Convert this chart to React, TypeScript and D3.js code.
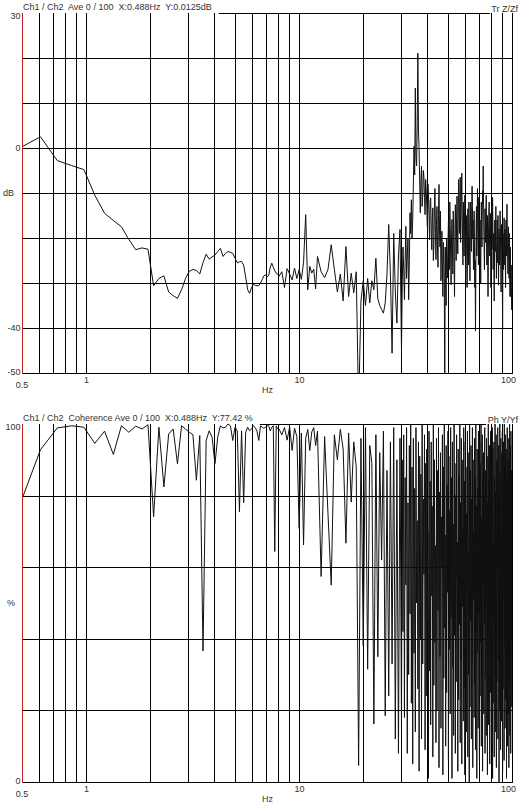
import React, { useEffect, useRef } from 'react';
import * as d3 from 'd3';

// FFT bin width (Hz)
const DF = 0.1220703125;

// ---------- Transfer function (dB) ----------
// bins 4..65, step 1
const topDbA = [0.0125, 2.5, -2.8, -3.9, -4.8, -10.5, -14.5, -16.1, -17.5, -20.3, -22.6, -22.2, -22.5, -30.6, -29.0, -28.4, -32.0, -32.8, -33.4, -31.5, -29.0, -27.4, -27.0, -27.2, -28.0, -25.5, -23.6, -24.7, -24.2, -23.8, -23.0, -22.3, -24.1, -23.4, -23.0, -23.2, -23.4, -24.5, -25.5, -25.3, -25.2, -26.0, -28.7, -31.5, -32.3, -31.0, -30.3, -30.5, -30.6, -30.6, -30.0, -29.2, -28.4, -28.2, -28.6, -28.3, -26.5, -25.6, -26.5, -27.3, -27.8, -28.0];
// bins 66..100, step 2
const topDbB = [-28.5, -27.5, -31.0, -26.8, -28.0, -29.3, -26.7, -29.0, -27.0, -29.2, -25.5, -14.8, -31.5, -26.3, -27.8, -26.9, -31.3, -24.1];
// bins 104..248, step 4
const topDbC = [
  -27.5, -28.8, -27.0, -21.5, -27.0, -32.0, -28.0, -34.0, -21.9, -33.0, -27.8, -32.2, -27.5, -58, -34.0, -29.5, -35.0, -29.0, -34.4, -29.5,
  -31.5, -24.5, -33.5, -35.0, -35.9, -36.7, -34.4, -28.0, -17.0, -28.0, -45.6, -19.0, -32.0, -38.9, -24.0, -18.1, -45.2
];
// bins 250..816, step 2
const topDbD = [
  -30, -22.0, -27, -33.7, -25, -17.4, -29, -24, -20, -33.7, -25, -14.4, -19, -11.5, -20, -15.9, -8, 0.4, -6, 13.3,
  -2, -4.0, 6, 21.1, 4, -0.4, -8, -14.4, -7, -4.1, -13, -10.7, -5, -6.3, -11, -14.8, -7, -9.3, -13, -17.4,
  -8, -10.4, -15, -20.4, -12, -11.1, -18, -22.6, -16, -13.3, -25, -21.5, -14, -9.0, -19, -24.8, -17, -13.0, -22, -26.5,
  -15, -8.1, -18, -22.0, -14, -29.5, -23, -18.5, -26, -33.0, -21, -24.0, -30, -58, -22, -30.0, -35, -20.0, -25, -28.9,
  -21, -16.3, -23, -27.0, -12, -17.0, -24, -30.4, -20, -15.9, -22, -28.0, -14, -18.1, -26, -33.0, -19, -12.6, -18, -25.0,
  -16, -10.7, -20, -23.5, -13, -7.0, -15, -19.0, -11, -6.5, -21, -16.5, -10, -5.6, -14, -20.4, -26, -12.0, -18, -24.0,
  -17, -10.5, -21, -29.0, -23, -15.0, -20, -31.0, -24, -13.5, -19, -26.0, -12, -18.0, -23, -29.5, -18, -12.0, -16, -23.0,
  -14, -8.5, -13, -20.0, -16, -27.0, -21, -14.0, -22, -31.0, -25, -40.7, -28, -17.0, -13, -24.0, -18, -9.0, -15, -20.5,
  -26, -11.0, -17, -25.0, -21, -16.0, -23, -30.0, -19, -12.0, -17, -22.0, -14, -9.5, -12, -4.0, -11, -18.0, -22, -27.0,
  -20, -13.5, -17, -21.0, -15, -10.5, -19, -26.0, -21, -15.0, -24, -33.0, -26, -18.0, -14, -12.0, -18, -24.0, -20, -14.5,
  -23, -31.0, -25, -17.0, -13, -22.5, -18, -11.0, -16, -27.0, -22, -19.0, -28, -34.0, -24, -16.0, -20, -23.0, -18, -13.0,
  -21, -29.0, -24, -20.0, -16, -25.5, -21, -15.0, -23, -30.5, -25, -18.0, -22, -26.0, -20, -14.0, -17, -22.0, -27, -32.0,
  -23, -17.0, -21, -24.5, -30, -40.0, -27, -19.0, -23, -27.0, -21, -15.5, -19, -23.0, -26, -18.0, -24, -31.0, -22, -16.0,
  -20, -24.0, -17, -12.5, -18, -21.5, -25, -28.0, -22, -17.5, -20, -25.0, -29, -19.0, -24, -29.0, -33, -22.0, -27, -33.0,
  -29, -26.0, -31, -36.0
];

// ---------- Coherence (%) ----------
// bins 4..65, step 1
const cohA = [77.42, 92.8, 98.9, 99.5, 99.1, 94.6, 98.0, 91.5, 99.5, 97.7, 99.4, 98.6, 99.8, 74.1, 99.1, 82.4, 97.2, 98.6, 88.9, 99.5, 98.6, 97.7, 97.0, 84.3, 96.8, 36.6, 95.4, 98.1, 96.3, 88.9, 96.3, 99.5, 98.9, 99.1, 100, 99.5, 95.4, 99.1, 98.1, 75.5, 98.1, 78.0, 97.7, 99.1, 98.1, 98.6, 99.5, 99.0, 98.0, 95.4, 99.5, 99.1, 98.8, 99.1, 99.5, 99.5, 98.1, 99.1, 99.5, 64.4, 99.5, 98.6];
// bins 66..100, step 2
const cohB = [98.6, 97.0, 99.0, 95.5, 99.2, 92.6, 98.8, 96.5, 70.8, 97.5, 66.2, 96.0, 98.5, 92.6, 97.8, 99.0, 94.0, 98.0];
// bins 104..248, step 4
const cohC = [
  57.4, 96.5, 75.0, 55.0, 97.0, 90.0, 98.5, 93.0, 66.7, 97.5, 78.2, 95.0, 88.0, 4.6, 96.0, 38.0, 99.0, 31.5, 94.0, 89.0,
  16.2, 97.0, 35.0, 92.0, 62.0, 98.0, 18.5, 87.0, 24.0, 95.0, 33.0, 99.0, 12.0, 90.0, 8.0, 96.0, 15.0
];
// bins 250..816, step 2
const cohD = [
  90, 42, 97, 18, 85, 55, 99, 8, 78, 30, 94, 47, 100, 22, 88, 5, 96, 36, 82, 14,
  99, 50, 73, 26, 95, 3, 91, 40, 86, 12, 100, 33, 79, 58, 97, 9, 89, 24, 93, 45,
  70, 1, 98, 31, 84, 16, 95, 52, 77, 7, 100, 27, 90, 39, 66, 11, 96, 20, 87, 48,
  99, 4, 81, 35, 92, 15, 74, 60, 97, 2, 88, 29, 100, 43, 69, 10, 94, 25, 83, 53,
  98, 6, 91, 37, 76, 19, 99, 46, 85, 1, 95, 32, 72, 13, 100, 41, 89, 8, 80, 28,
  97, 57, 67, 3, 93, 23, 86, 44, 100, 11, 78, 34, 96, 5, 90, 49, 71, 17, 99, 26,
  84, 2, 95, 38, 88, 14, 75, 54, 98, 7, 92, 30, 64, 0, 100, 21, 87, 45, 94, 12,
  79, 33, 99, 4, 90, 51, 70, 18, 96, 27, 85, 9, 100, 42, 77, 1, 93, 36, 82, 15,
  98, 47, 68, 6, 95, 24, 89, 39, 100, 10, 74, 31, 97, 3, 86, 56, 92, 19, 80, 44,
  99, 8, 87, 29, 63, 13, 96, 50, 91, 2, 78, 35, 100, 16, 84, 40, 94, 5, 72, 25,
  98, 53, 89, 11, 76, 37, 99, 1, 93, 22, 67, 46, 95, 7, 85, 30, 100, 14, 81, 43,
  97, 4, 90, 28, 73, 59, 99, 12, 88, 34, 94, 0, 79, 20, 100, 48, 86, 9, 96, 32,
  69, 17, 92, 41, 98, 3, 83, 26, 95, 52, 75, 6, 100, 38, 89, 15, 97, 23, 80, 45,
  93, 1, 86, 33, 99, 10, 71, 55, 96, 19, 90, 4, 84, 36, 100, 13, 77, 28, 94, 8,
  98, 40, 87, 21
];

// ---------- Axes ----------
const gridFreqs = [0.6, 0.7, 0.8, 0.9, 1, 2, 3, 4, 5, 6, 7, 8, 9, 10, 20, 30, 40, 50, 60, 70, 80, 90, 100];
const xLabelFreqs = [0.5, 1, 10, 100];
const xLabelTexts = ['0.5', '1', '10', '100'];
const dbGrid = [20, 10, 0, -10, -20, -30, -40];
const dbLabels = [30, 0, -40, -50];
const cohGrid = [80, 60, 40, 20];
const cohLabels = [100, 0];

const X0 = 22;
const X1 = 512;
const FONT = '"Liberation Sans", Arial, sans-serif';
const TXT = '#333';

type Pt = { f: number; v: number };

function segment(startBin: number, step: number, vals: number[]): Pt[] {
  return vals.map((v, i) => ({ f: (startBin + i * step) * DF, v }));
}

const topPoints = [
  ...segment(4, 1, topDbA), ...segment(66, 2, topDbB), ...segment(104, 4, topDbC), ...segment(250, 2, topDbD),
];
const cohPoints = [
  ...segment(4, 1, cohA), ...segment(66, 2, cohB), ...segment(104, 4, cohC), ...segment(250, 2, cohD),
];

type Panel = {
  key: string;
  top: number;
  bottom: number;
  domain: [number, number];
  grid: number[];
  labels: number[];
  unit: string;
  unitValue: number;
  unitX: number;
  header: string;
  right: string;
  points: Pt[];
};

function drawPanel(svg: d3.Selection<SVGSVGElement, unknown, null, undefined>, p: Panel) {
  const x = d3.scaleLog().domain([0.5, 100]).range([X0, X1]);
  const y = d3.scaleLinear().domain(p.domain).range([p.bottom, p.top]);
  const crisp = (v: number) => Math.round(v) + 0.5;
  const g = svg.append('g');

  gridFreqs.forEach((f) => {
    g.append('line')
      .attr('x1', crisp(x(f))).attr('x2', crisp(x(f)))
      .attr('y1', p.top).attr('y2', p.bottom)
      .attr('stroke', '#000').attr('stroke-width', 1);
  });
  p.grid.forEach((v) => {
    g.append('line')
      .attr('x1', X0).attr('x2', X1)
      .attr('y1', crisp(y(v))).attr('y2', crisp(y(v)))
      .attr('stroke', '#000').attr('stroke-width', 1);
  });
  g.append('line')
    .attr('x1', X0).attr('x2', X1 + 1)
    .attr('y1', crisp(p.bottom)).attr('y2', crisp(p.bottom))
    .attr('stroke', '#000').attr('stroke-width', 1);

  const clipId = 'clip-' + p.key;
  svg.append('clipPath').attr('id', clipId)
    .append('rect')
    .attr('x', X0).attr('y', p.top - 1)
    .attr('width', X1 - X0 + 1).attr('height', p.bottom - p.top + 1);
  const line = d3.line<Pt>().x((d) => x(d.f)).y((d) => y(d.v));
  g.append('path')
    .attr('d', line(p.points) || '')
    .attr('fill', 'none')
    .attr('stroke', '#111')
    .attr('stroke-width', 1)
    .attr('clip-path', `url(#${clipId})`);

  g.append('line')
    .attr('x1', crisp(X0)).attr('x2', crisp(X0))
    .attr('y1', p.top).attr('y2', p.bottom + 1)
    .attr('stroke', '#c81e1e').attr('stroke-width', 1);

  const txt = (sel: any) =>
    sel.attr('font-family', FONT).attr('font-size', 9).attr('fill', TXT).style('white-space', 'pre');

  p.labels.forEach((v) => {
    const cy = Math.min(Math.max(y(v), p.top + 2.5), p.bottom - 1.5);
    txt(g.append('text'))
      .attr('x', 20.5).attr('y', cy + 3.2)
      .attr('text-anchor', 'end')
      .text(String(v));
  });
  txt(g.append('text'))
    .attr('x', p.unitX).attr('y', y(p.unitValue) + 3.2)
    .text(p.unit);

  xLabelFreqs.forEach((f, i) => {
    const isFirst = i === 0;
    const isLast = i === xLabelFreqs.length - 1;
    txt(g.append('text'))
      .attr('x', isLast ? 516 : x(f) + (isFirst ? 0 : 0.5))
      .attr('y', p.bottom + (isFirst ? 14.5 : 9.5))
      .attr('text-anchor', isLast ? 'end' : 'middle')
      .text(xLabelTexts[i]);
  });
  txt(g.append('text'))
    .attr('x', 267.5).attr('y', p.bottom + 19.5)
    .attr('text-anchor', 'middle')
    .text('Hz');

  const ht = txt(g.append('text'))
    .attr('x', 23).attr('y', p.top - 3)
    .text(p.header);
  const rt = txt(g.append('text'))
    .attr('x', 518).attr('y', p.top - 0.8)
    .attr('text-anchor', 'end')
    .text(p.right);
  const hw = (ht.node() as SVGTextElement).getComputedTextLength();
  const rw = (rt.node() as SVGTextElement).getComputedTextLength();
  g.append('line')
    .attr('x1', 23 + hw + 7).attr('x2', 518 - rw - 1.5)
    .attr('y1', crisp(p.top)).attr('y2', crisp(p.top))
    .attr('stroke', '#000').attr('stroke-width', 1);
}

export default function App() {
  const ref = useRef<SVGSVGElement>(null);
  useEffect(() => {
    if (!ref.current) return;
    const svg = d3.select(ref.current);
    svg.selectAll('*').remove();
    drawPanel(svg, {
      key: 'tf', top: 13, bottom: 373, domain: [-50, 30],
      grid: dbGrid, labels: dbLabels, unit: 'dB', unitValue: -10, unitX: 3,
      header: 'Ch1 / Ch2  Ave 0 / 100  X:0.488Hz  Y:0.0125dB', right: 'Tr Z/Zf',
      points: topPoints,
    });
    drawPanel(svg, {
      key: 'coh', top: 424, bottom: 782, domain: [0, 100],
      grid: cohGrid, labels: cohLabels, unit: '%', unitValue: 50, unitX: 7,
      header: 'Ch1 / Ch2  Coherence Ave 0 / 100  X:0.488Hz  Y:77.42 %', right: 'Ph Y/Yf',
      points: cohPoints,
    });
  }, []);
  return (
    <svg
      ref={ref}
      width={528}
      height={808}
      style={{ position: 'absolute', left: 0, top: 0, background: '#fff' }}
    />
  );
}
